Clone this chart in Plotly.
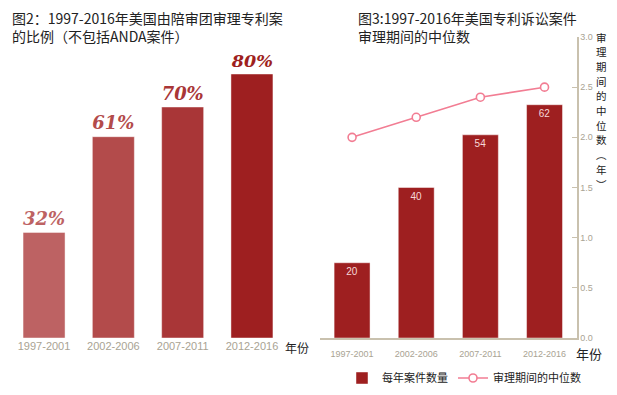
import plotly.graph_objects as go

# ---- data ----
periods = ["1997-2001", "2002-2006", "2007-2011", "2012-2016"]
jury_share = [32, 61, 70, 80]          # % of patent cases tried by jury
case_counts = [20, 40, 54, 62]         # cases per year
median_years = [2.0, 2.2, 2.4, 2.5]    # median time to trial (years)
right_ticks = [0.0, 0.5, 1.0, 1.5, 2.0, 2.5, 3.0]
right_axis_title = "审理期间的中位数︵年︶"

left_colors = ["#BD6263", "#B34B4B", "#A93637", "#9E1F20"]
bar_red = "#9E1F20"
line_pink = "#F27D93"
tick_gray = "#A9A393"
axis_tan = "#C9C1AE"
W, H = 617, 395

def px(x):
    return x / W

def py(y):
    return 1 - y / H

fig = go.Figure()

# left chart
fig.add_trace(go.Bar(
    x=periods, y=jury_share, xaxis="x", yaxis="y",
    width=[0.606] * 4,
    marker=dict(color=left_colors, line=dict(color="rgba(255,255,255,0.45)", width=1)),
    text=[f"{v}%" for v in jury_share], textposition="outside",
    textfont=dict(family="DejaVu Serif", size=20.5, color=left_colors, weight="bold", style="italic"),
    cliponaxis=False, showlegend=False, hoverinfo="skip",
))

# right chart bars
fig.add_trace(go.Bar(
    x=periods, y=case_counts, xaxis="x2", yaxis="y2",
    width=[0.56] * 4, name="每年案件数量",
    marker=dict(color=bar_red, line=dict(color="rgba(255,255,255,0.45)", width=1)),
    text=[str(v) for v in case_counts], textposition="inside", insidetextanchor="end",
    textfont=dict(family="Liberation Sans", size=10, color="#F6D8D8"),
    hoverinfo="skip",
))

# right chart line
fig.add_trace(go.Scatter(
    x=periods, y=median_years, xaxis="x2", yaxis="y3",
    mode="lines+markers", name="审理期间的中位数",
    line=dict(color=line_pink, width=1.6),
    marker=dict(symbol="circle", size=8, color="white", line=dict(color=line_pink, width=1.6)),
    hoverinfo="skip",
))

fig.update_layout(
    width=W, height=H,
    margin=dict(l=0, r=0, t=0, b=0, autoexpand=False),
    paper_bgcolor="white", plot_bgcolor="rgba(0,0,0,0)",
    font=dict(family="Noto Sans CJK SC", color="#222222"),
    xaxis=dict(domain=[px(9.4), px(286.6)], anchor="y", showline=False, showgrid=False,
               ticks="", tickfont=dict(family="Liberation Sans", size=11, color=tick_gray),
               fixedrange=True),
    yaxis=dict(domain=[py(338), py(8)], range=[0, 100], visible=False, fixedrange=True),
    xaxis2=dict(domain=[px(320), px(576.6)], anchor="y2", showline=True, linecolor=axis_tan,
                linewidth=1.5, showgrid=False, ticks="",
                tickfont=dict(family="Liberation Sans", size=9, color=tick_gray),
                ticklabelstandoff=6, fixedrange=True),
    yaxis2=dict(domain=[py(338), py(37)], range=[0, 80], visible=False, fixedrange=True),
    yaxis3=dict(overlaying="y2", anchor="x2", side="right", range=[0, 3],
                tickvals=right_ticks, tickformat=".1f", showline=True, linecolor=axis_tan,
                linewidth=1.5, ticks="inside", ticklen=5, tickcolor=axis_tan, showgrid=False,
                zeroline=False,
                tickfont=dict(family="Liberation Sans", size=9, color=tick_gray),
                fixedrange=True),
    legend=dict(orientation="h", x=px(342), y=py(378), xanchor="left", yanchor="middle",
                font=dict(size=11, color="#222222"), bgcolor="rgba(0,0,0,0)",
                itemwidth=30, traceorder="normal", tracegroupgap=0),
    showlegend=True,
)

annotations = [
    dict(x=px(10), y=py(6), xanchor="left", yanchor="top", align="left",
         text="图2：1997-2016年美国由陪审团审理专利案<br>的比例（不包括ANDA案件）",
         font=dict(size=14, color="#222222")),
    dict(x=px(356), y=py(6), xanchor="left", yanchor="top", align="left",
         text="图3:1997-2016年美国专利诉讼案件<br>审理期间的中位数",
         font=dict(size=14, color="#222222")),
    dict(x=px(283), y=py(347), xanchor="left", yanchor="middle",
         text="年份", font=dict(size=12, color="#222222")),
    dict(x=px(574), y=py(353), xanchor="left", yanchor="middle",
         text="年份", font=dict(size=13, color="#222222")),
]
# vertical right-axis title, one glyph per annotation
for i, ch in enumerate(right_axis_title):
    annotations.append(dict(x=px(601), y=py(37 + i * 14.7), xanchor="center", yanchor="middle",
                            text=ch, borderpad=0, font=dict(size=10.5, color="#222222")))
for a in annotations:
    a.update(xref="paper", yref="paper", showarrow=False)
fig.update_layout(annotations=annotations)

fig.write_html("out.html", post_script="document.body.style.margin='0';",
               config={"displayModeBar": False})
